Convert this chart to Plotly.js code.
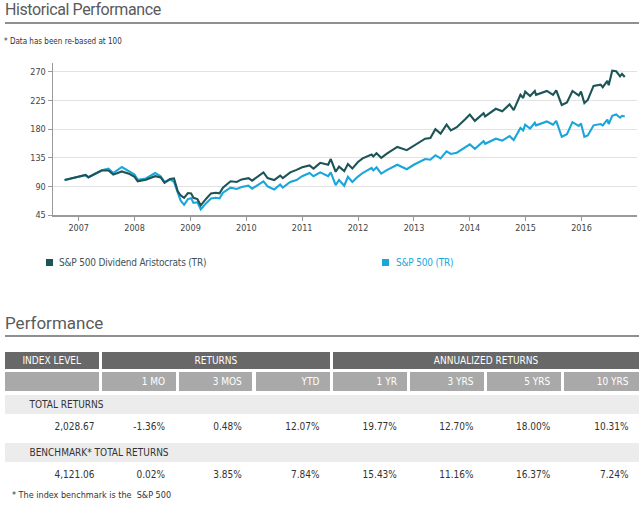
<!DOCTYPE html>
<html>
<head>
<meta charset="utf-8">
<script src="https://cdn.plot.ly/plotly-3.0.1.min.js"></script>
<style>
  html, body { margin:0; padding:0; background:#fff; }
  #page { position:relative; width:640px; height:505px; overflow:hidden; font-family:"Liberation Sans Narrow","DejaVu Sans Condensed","Roboto Condensed",Roboto,sans-serif; }
  .abs { position:absolute; white-space:nowrap; }
  .h1 { font-family:Roboto,"Open Sans",sans-serif; font-size:17px; color:#5a5a5a; }
  .rule { position:absolute; left:5px; width:634px; height:2px; background:#8f8f8f; }
  .cell { position:absolute; box-sizing:border-box; font-size:10px; display:flex; align-items:center; }
</style>
</head>
<body>
<div id="page">
  <div class="abs h1" style="left:5px;top:0px;line-height:20px;font-size:16px;letter-spacing:-0.4px;">Historical Performance</div>
  <div class="rule" style="top:22px;"></div>
  <div class="abs" style="left:4px;top:36px;font-size:8px;line-height:11px;color:#333;">* Data has been re-based at 100</div>
  <div id="chart" style="position:absolute;left:0;top:50px;width:640px;height:200px;"></div>
  <div id="legend"></div>
  <div class="abs h1" style="left:5px;top:313px;line-height:20px;">Performance</div>
  <div class="rule" style="top:335px;"></div>
  <div id="table"></div>
  <div class="abs" style="left:12px;top:489px;font-size:9px;line-height:12px;color:#333;">* The index benchmark is the &nbsp;S&amp;P 500</div>
</div>
<script>
// ---------------- DATA ----------------
const seriesNames = ['S&P 500 Dividend Aristocrats (TR)', 'S&P 500 (TR)'];
const seriesColors = ['#1c5457', '#1aa6d9'];
const dates = [
 '2006-10-01','2006-11-15','2007-01-01','2007-02-15','2007-03-05','2007-04-15','2007-06-01','2007-07-15','2007-08-15','2007-10-10',
 '2007-11-25','2008-01-01','2008-01-22','2008-03-15','2008-05-15','2008-06-20','2008-07-15','2008-08-20','2008-09-15','2008-10-10',
 '2008-10-28','2008-11-20','2008-12-15','2009-01-05','2009-01-20','2009-02-15','2009-03-09','2009-04-15','2009-05-15','2009-06-15',
 '2009-07-10','2009-08-01','2009-09-20','2009-10-30','2009-12-01','2010-01-15','2010-02-08','2010-04-23','2010-05-20','2010-07-02',
 '2010-08-10','2010-08-27','2010-10-15','2010-11-25','2011-01-01','2011-02-18','2011-03-16','2011-04-29','2011-06-20','2011-07-07',
 '2011-08-08','2011-08-30','2011-10-03','2011-10-27','2011-11-25','2011-12-30','2012-01-31','2012-03-30','2012-04-10','2012-05-01',
 '2012-06-01','2012-07-10','2012-09-14','2012-11-15','2012-12-31','2013-03-15','2013-04-18','2013-05-21','2013-06-24','2013-08-02',
 '2013-08-30','2013-10-08','2013-11-30','2014-01-01','2014-02-03','2014-04-01','2014-04-11','2014-06-20','2014-08-01','2014-09-18',
 '2014-10-15','2014-11-28','2014-12-16','2014-12-29','2015-01-30','2015-03-02','2015-03-10','2015-05-20','2015-06-29','2015-07-20',
 '2015-08-25','2015-09-28','2015-11-03','2015-12-14','2015-12-29','2016-01-20','2016-02-11','2016-03-20','2016-05-05','2016-05-19',
 '2016-06-18','2016-06-27','2016-07-20','2016-08-15','2016-09-09','2016-09-22','2016-10-10'
];
const aristocrats = [
 100,102.5,105,108,104.5,110,115,115,108.5,113.5,
 110,105,98,100.5,106,104,95.5,101.5,102.5,82,
 76,72,79.5,79,72,70,60,71,79,80,
 79,88,98,97,101,103,99,112,103,100,
 107,103,112,116,120,123,118,127,124,133,
 113,121,114,125,118,128,134,140,137,142,
 135,142,152,147,154,165,166,180,173,187,
 178,183,195,203,193,205,200,212,208,219,
 210,234,229,239,232,240,234,240,234,241,
 218,222,240,233,239,221,226,248,250,246,
 256,249,272,271,263,267,262
];
const sp500 = [
 100,102,105,107.5,104,109.5,115.5,118,111,120.5,
 114,108.5,100.5,102.5,111,106,97,101,97,78,
 68,61,70,71.5,64,65,54,64,71,72,
 71,80,88,86,89,91,86.5,98,90,85,
 93,88,97,100,106,111,106,112,106,112,
 92,100,91,105,97,105,111,119,115,120,
 110,116,124,117,124,133,132,139,134,145,
 141,143,152,156,149,161,157,165,162,169,
 163,182,178,187,181,190,186,192,187,193,
 168,172,191,185,189,168,170,186,188,186,
 195,188,201,203,198,201,200
];
const yTicks = [45, 90, 135, 180, 225, 270];
const xTickDates = ['2007-01-01','2008-01-01','2009-01-01','2010-01-01','2011-01-01','2012-01-01','2013-01-01','2014-01-01','2015-01-01','2016-01-01'];
const xTickLabels = ['2007','2008','2009','2010','2011','2012','2013','2014','2015','2016'];

// table data
const topHeaders = ['INDEX LEVEL', 'RETURNS', 'ANNUALIZED RETURNS'];
const subHeaders = ['', '1 MO', '3 MOS', 'YTD', '1 YR', '3 YRS', '5 YRS', '10 YRS'];
const rowLabels = ['TOTAL RETURNS', 'BENCHMARK* TOTAL RETURNS'];
const totalReturns = ['2,028.67', '-1.36%', '0.48%', '12.07%', '19.77%', '12.70%', '18.00%', '10.31%'];
const benchmarkReturns = ['4,121.06', '0.02%', '3.85%', '7.84%', '15.43%', '11.16%', '16.37%', '7.24%'];

// ---------------- CHART ----------------
const NARROW = '"Liberation Sans Narrow","DejaVu Sans Condensed","Roboto Condensed",Roboto,sans-serif';
const traces = [aristocrats, sp500].map((vals, i) => ({
  type: 'scatter', mode: 'lines', x: dates, y: vals, name: seriesNames[i],
  line: { color: seriesColors[i], width: 2.1 }, showlegend: false, hoverinfo: 'x+y'
}));
// draw S&P first so Aristocrats sits on top
Plotly.newPlot('chart', [traces[1], traces[0]], {
  width: 640, height: 200,
  margin: { l: 53, r: 3, t: 13, b: 35 },
  paper_bgcolor: '#fff', plot_bgcolor: '#fff',
  showlegend: false,
  font: { family: NARROW, size: 9, color: '#444' },
  xaxis: {
    type: 'date', range: ['2006-07-17', '2016-12-29'],
    tickmode: 'array', tickvals: xTickDates, ticktext: xTickLabels,
    showgrid: false, zeroline: false, showline: true, linecolor: '#9a9a9a', linewidth: 1.5,
    ticks: 'outside', ticklen: 4, tickcolor: '#9a9a9a', tickfont: { family: NARROW, size: 9, color: '#444' },
    automargin: false, fixedrange: true
  },
  yaxis: {
    range: [45, 284], tickmode: 'array', tickvals: yTicks,
    showgrid: true, gridcolor: '#e2e2e2', gridwidth: 1, zeroline: false,
    showline: true, linecolor: '#9a9a9a', linewidth: 1.5,
    ticks: 'outside', ticklen: 4, tickcolor: '#9a9a9a', tickfont: { family: NARROW, size: 9, color: '#444' },
    automargin: false, fixedrange: true
  }
}, { displayModeBar: false, staticPlot: true });

// ---------------- LEGEND ----------------
const legendPos = [[46, 59], [382, 396]];
const lg = document.getElementById('legend');
seriesNames.forEach((n, i) => {
  const sq = document.createElement('div');
  sq.style.cssText = `position:absolute;left:${legendPos[i][0]}px;top:259px;width:7px;height:7px;background:${seriesColors[i]};`;
  lg.appendChild(sq);
  const t = document.createElement('div');
  t.className = 'abs';
  t.style.cssText += `left:${legendPos[i][1]}px;top:257px;line-height:12px;font-size:10px;letter-spacing:-0.2px;color:${i === 0 ? '#3e5358' : seriesColors[i]};`;
  t.textContent = n;
  lg.appendChild(t);
});

// ---------------- TABLE ----------------
const colEdges = [[5,98.5],[101.7,175.6],[178.9,252.3],[255.6,330],[333,407.4],[410,484],[487,560.8],[564,639]];
const topSpans = [[0,0],[1,3],[4,7]];
const tb = document.getElementById('table');
function cell(l, t, w, h, bg, color, txt, align, padR, padL) {
  const d = document.createElement('div');
  d.className = 'cell';
  d.style.left = l + 'px'; d.style.top = t + 'px'; d.style.width = w + 'px'; d.style.height = h + 'px';
  d.style.background = bg; d.style.color = color;
  d.style.justifyContent = align;
  if (padR) d.style.paddingRight = padR + 'px';
  if (padL) d.style.paddingLeft = padL + 'px';
  d.textContent = txt;
  tb.appendChild(d);
}
topHeaders.forEach((h, i) => {
  const a = colEdges[topSpans[i][0]][0], b = colEdges[topSpans[i][1]][1];
  cell(a, 351.7, b - a, 17.6, '#686868', '#fff', h, 'center');
});
subHeaders.forEach((h, i) => {
  const [a, b] = colEdges[i];
  cell(a, 372, b - a, 18.7, '#a9a9a9', '#fff', h, 'flex-end', 10.5);
});
const rowTops = [395, 443.3];
const valueRows = [totalReturns, benchmarkReturns];
rowLabels.forEach((lab, r) => {
  cell(5, rowTops[r], 634, 19, '#ececec', '#333', lab, 'flex-start', 0, 24.5);
  valueRows[r].forEach((v, i) => {
    const [a, b] = colEdges[i];
    cell(a, rowTops[r] + 22, b - a, 18, 'transparent', '#333', v, 'flex-end', i === 0 ? 4 : 10.5);
  });
});
</script>
</body>
</html>
